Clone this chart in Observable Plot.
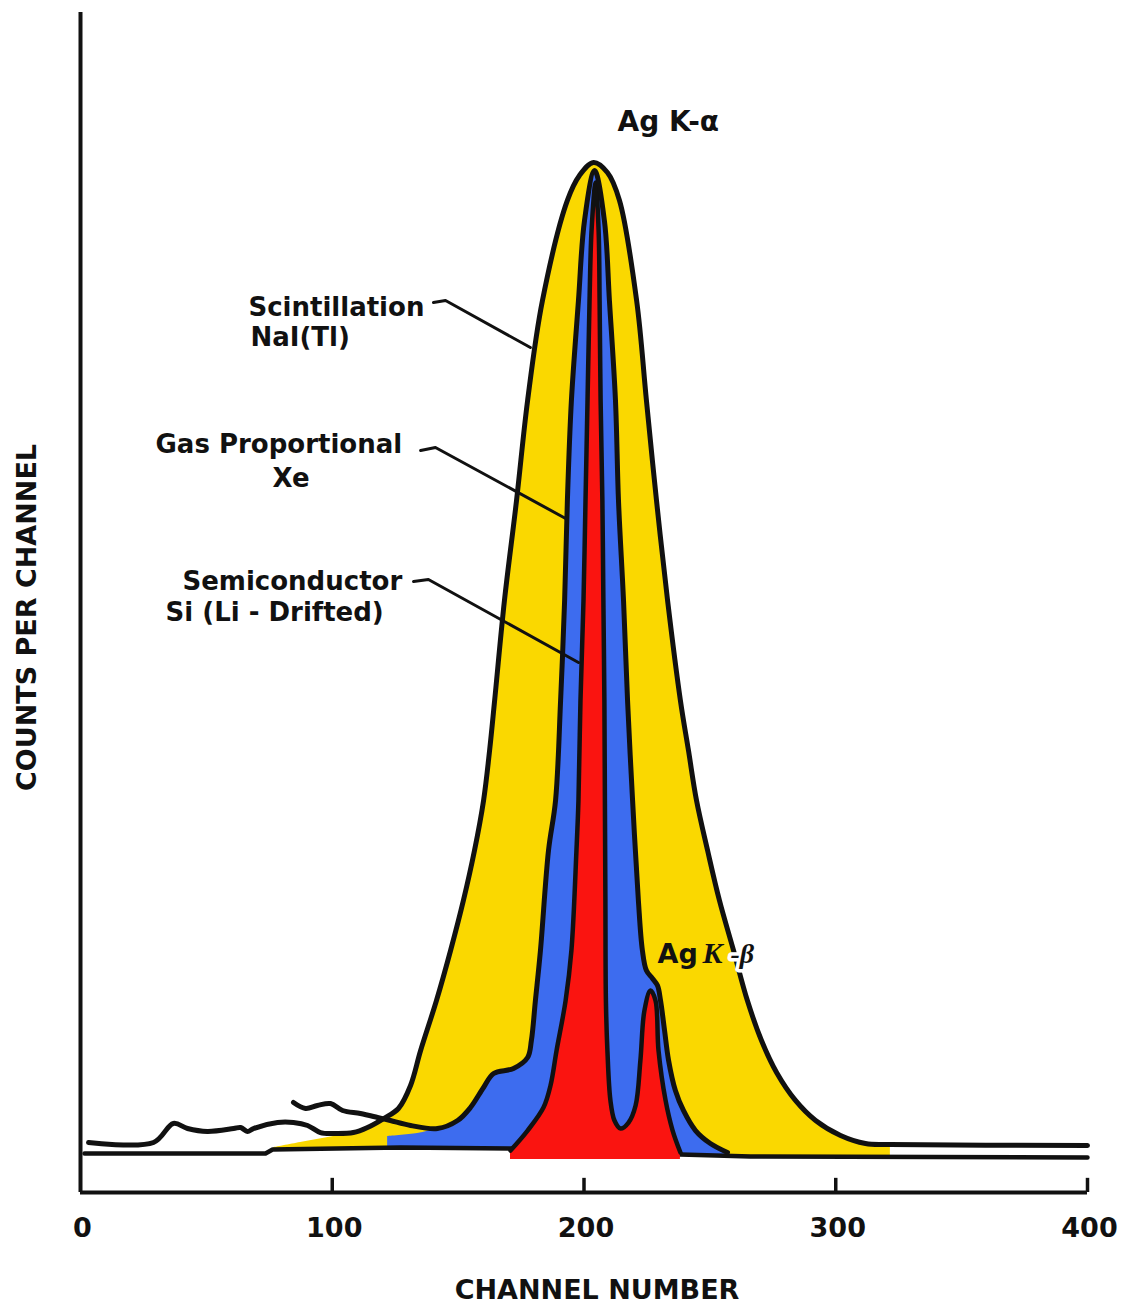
<!DOCTYPE html>
<html>
<head>
<meta charset="utf-8">
<script src="https://cdn.jsdelivr.net/npm/d3@7"></script>
<script src="https://cdn.jsdelivr.net/npm/@observablehq/plot@0.6"></script>
<style>
  html, body { margin: 0; padding: 0; background: #ffffff; }
  #chart svg { display: block; }
</style>
</head>
<body>
<div id="chart"></div>
<script>
// ---------------- Data (channel number, counts per channel; arbitrary units) ----------------
// Scintillation NaI(Tl) spectrum
const scintCh = [3.2, 29.0, 36.9, 42.5, 50.4, 60.8, 63.6, 66.3, 68.7, 78.3, 84.6, 90.2, 95.3, 100.5, 108.4, 114.0, 120.4, 126.3, 131.1, 135.1, 141.4, 147.0, 152.1, 156.5, 160.1, 162.5, 164.5, 168.4, 173.2, 177.6, 183.5, 193.4, 198.2, 203.8, 209.3, 214.1, 220.9, 224.8, 228.8, 233.2, 238.3, 241.5, 244.7, 249.1, 253.8, 259.4, 264.9, 270.5, 276.5, 284.0, 292.0, 301.9, 311.8, 321.7, 400];
const scintCounts = [42.4, 42.4, 58.5, 54.2, 51.7, 54.2, 55.1, 51.7, 54.2, 59.3, 59.3, 56.8, 50.8, 50.0, 50.8, 55.1, 62.7, 71.2, 90.7, 120.3, 162.7, 205.1, 247.5, 289.8, 332.2, 374.6, 416.9, 501.7, 586.4, 671.2, 755.9, 840.7, 861.9, 872.9, 864.4, 840.7, 755.9, 671.2, 586.4, 501.7, 416.9, 374.6, 332.2, 289.8, 247.5, 205.1, 162.7, 128.8, 101.7, 78.0, 61.0, 48.3, 41.5, 40.7, 39.8];

// Gas proportional (Xe) spectrum
const gasCh = [84.6, 89.4, 94.1, 99.3, 104.1, 111.2, 118.0, 123.1, 131.1, 141.8, 149.8, 154.9, 160.1, 164.1, 172.0, 177.6, 179.1, 180.7, 182.7, 185.9, 188.7, 190.7, 192.3, 193.4, 195.0, 197.8, 200.2, 204.2, 208.1, 210.1, 212.5, 213.7, 215.7, 217.3, 219.3, 221.6, 223.2, 224.8, 227.2, 229.2, 230.4, 232.0, 233.6, 236.3, 239.5, 244.3, 250.2, 257.0];
const gasCounts = [76.3, 71.2, 73.7, 75.4, 69.5, 66.9, 63.6, 61.0, 56.8, 54.2, 61.0, 72.0, 89.0, 100.8, 105.1, 114.4, 128.8, 162.7, 205.1, 289.8, 332.2, 416.9, 501.7, 586.4, 671.2, 755.9, 823.7, 866.1, 823.7, 755.9, 671.2, 586.4, 501.7, 416.9, 332.2, 247.5, 205.1, 188.1, 181.4, 175.4, 162.7, 137.3, 111.9, 86.4, 69.5, 52.5, 41.5, 33.9];

// Semiconductor Si(Li) spectrum
const semiCh = [170.8, 177.6, 183.9, 186.7, 189.1, 192.7, 195.0, 197.0, 197.8, 198.6, 199.8, 200.6, 201.4, 202.2, 203.0, 204.6, 205.8, 206.2, 206.6, 207.3, 207.7, 208.1, 208.3, 208.5, 208.7, 209.3, 210.5, 212.1, 214.5, 217.7, 220.5, 222.4, 224.0, 226.4, 228.4, 229.6, 232.4, 235.2, 238.3];
const semiCounts = [35.6, 52.5, 72.0, 90.7, 120.3, 162.7, 205.1, 289.8, 332.2, 416.9, 501.7, 586.4, 671.2, 755.9, 815.3, 855.9, 815.3, 755.9, 671.2, 586.4, 501.7, 416.9, 332.2, 247.5, 162.7, 120.3, 78.0, 61.0, 54.2, 59.3, 73.7, 111.9, 154.2, 171.2, 162.7, 120.3, 78.0, 52.5, 33.9];
const semiFloor = 28;

// Common baseline under the spectra
const baseCh = [1.6, 73.5, 76.3, 127.1, 170.8, 238.3, 266.1, 400];
const baseCounts = [33.1, 33.1, 36.4, 38.1, 37.3, 32.2, 30.5, 29.7];

// Low-channel edges of the hand-coloured fills
const yellowTailCh = [76.7, 87.4, 100.5, 111.2];
const yellowTailCounts = [38.0, 42.4, 47.5, 51.7];
const yellowRange = [114.0, 321.7];
const blueTailCh = [122.0, 133.9];
const blueTailCounts = [47.5, 50.0];
const blueFrom = 141.8;

// Axis ticks
const tickValues = [0, 100, 200, 300, 400];
const tickMarks = [100, 200, 300, 400];

// Annotations
const labelText = ["Scintillation", "NaI(Tl)", "Gas Proportional", "Xe", "Semiconductor", "Si (Li - Drifted)"];
const labelCh = [66.7, 67.5, 29.8, 76.3, 40.5, 33.8];
const labelCounts = [743.2, 717.0, 626.3, 597.5, 511.0, 484.7];
const kAlphaText = "Ag K-\u03b1";
const kAlphaCh = 213.3;
const kAlphaCounts = 899.2;
const kBetaCh = 229.2;
const kBetaCounts = 194.1;

// Leader lines (one per detector label)
const leaderName = ["scint", "scint", "scint", "gas", "gas", "gas", "semi", "semi", "semi"];
const leaderCh = [140.2, 145.0, 178.7, 135.1, 141.0, 192.7, 132.3, 138.2, 197.8];
const leaderCounts = [754.2, 755.9, 716.1, 628.8, 631.4, 571.2, 517.8, 519.5, 449.2];

// ---------------- Tables ----------------
const toRows = (xs, ys) => xs.map((x, i) => ({ch: x, c: ys[i]}));
const scint = toRows(scintCh, scintCounts);
const gas = toRows(gasCh, gasCounts);
const semi = toRows(semiCh, semiCounts);
const base = toRows(baseCh, baseCounts);
const baseAt = d3.scaleLinear().domain(baseCh).range(baseCounts);

const yellowFill = toRows(yellowTailCh, yellowTailCounts)
  .concat(scint.filter(d => d.ch >= yellowRange[0] && d.ch <= yellowRange[1]));
const blueFill = toRows(blueTailCh, blueTailCounts)
  .concat(gas.filter(d => d.ch >= blueFrom));
const labels = labelText.map((t, i) => ({t, ch: labelCh[i], c: labelCounts[i]}));
const leaders = leaderName.map((n, i) => ({n, ch: leaderCh[i], c: leaderCounts[i]}));

const FONT = "'DejaVu Sans', Lato, sans-serif";
const SERIF = "'Liberation Serif', 'DejaVu Serif', serif";
const YELLOW = "#FAD800", BLUE = "#3D6CEF", RED = "#FA1410";

const chart = Plot.plot({
  width: 1128,
  height: 1304,
  marginLeft: 80,
  marginRight: 41,
  marginTop: 12,
  marginBottom: 112,
  x: {domain: [0, 400], axis: null},
  y: {domain: [0, 1000], axis: null},
  style: {background: "#ffffff", fontFamily: FONT, color: "#111"},
  marks: [
    // fills
    Plot.areaY(yellowFill, {x: "ch", y1: d => baseAt(d.ch), y2: "c", fill: YELLOW, curve: "catmull-rom"}),
    Plot.areaY(blueFill, {x: "ch", y1: d => baseAt(d.ch), y2: "c", fill: BLUE, curve: "catmull-rom"}),
    Plot.line(base, {x: "ch", y: "c", stroke: "#111", strokeWidth: 4.5, strokeLinecap: "round"}),
    Plot.areaY(semi, {x: "ch", y1: semiFloor, y2: "c", fill: RED, curve: "catmull-rom"}),
    // outlines
    Plot.line(semi, {x: "ch", y: "c", stroke: "#111", strokeWidth: 4.5, curve: "catmull-rom", strokeLinejoin: "round", strokeLinecap: "round"}),
    Plot.line(gas, {x: "ch", y: "c", stroke: "#111", strokeWidth: 5, curve: "catmull-rom", strokeLinejoin: "round", strokeLinecap: "round"}),
    Plot.line(scint, {x: "ch", y: "c", stroke: "#111", strokeWidth: 5, curve: "catmull-rom", strokeLinejoin: "round", strokeLinecap: "round"}),
    // axes
    Plot.ruleX([0], {y1: 0, y2: 1000, stroke: "#111", strokeWidth: 4}),
    Plot.ruleY([0], {x1: 0, x2: 400, stroke: "#111", strokeWidth: 4}),
    Plot.ruleX(tickMarks, {y1: 0, y2: 12, stroke: "#111", strokeWidth: 3.5}),
    Plot.text(tickValues, {x: d => d, y: 0, text: d => String(d), dy: 25, dx: 2, lineAnchor: "top", fontSize: 27, fontWeight: "bold", fill: "#111"}),
    Plot.text(["CHANNEL NUMBER"], {frameAnchor: "bottom", textAnchor: "middle", dx: 13, dy: 106, lineAnchor: "bottom", fontSize: 27, fontWeight: "bold", fill: "#111"}),
    Plot.text(["COUNTS PER CHANNEL"], {frameAnchor: "left", textAnchor: "middle", rotate: -90, dx: -45, dy: 15, lineAnchor: "bottom", fontSize: 27, fontWeight: "bold", fill: "#111"}),
    // leaders
    Plot.line(leaders, {x: "ch", y: "c", z: "n", stroke: "#111", strokeWidth: 3, strokeLinejoin: "round", strokeLinecap: "round"}),
    // annotation texts
    Plot.text(labels, {x: "ch", y: "c", text: "t", textAnchor: "start", lineAnchor: "bottom", fontSize: 26, fontWeight: "bold", fill: "#111"}),
    Plot.text([kAlphaText], {x: () => kAlphaCh, y: () => kAlphaCounts, textAnchor: "start", lineAnchor: "bottom", fontSize: 28, fontWeight: "bold", fill: "#111"}),
    Plot.text(["Ag"], {x: () => kBetaCh, y: () => kBetaCounts, textAnchor: "start", lineAnchor: "bottom", fontSize: 27, fontWeight: "bold", fill: "#111"}),
    Plot.text(["K"], {x: () => kBetaCh, y: () => kBetaCounts, dx: 45, textAnchor: "start", lineAnchor: "bottom", fontSize: 30, fontWeight: "bold", fontStyle: "italic", fontFamily: SERIF, fill: "#111"}),
    Plot.text(["-\u03b2"], {x: () => kBetaCh, y: () => kBetaCounts, dx: 73, textAnchor: "start", lineAnchor: "bottom", fontSize: 28, fontWeight: "bold", fontStyle: "italic", fontFamily: SERIF, fill: "#111", stroke: "#ffffff", strokeWidth: 7})
  ]
});
document.getElementById("chart").appendChild(chart);
</script>
</body>
</html>
